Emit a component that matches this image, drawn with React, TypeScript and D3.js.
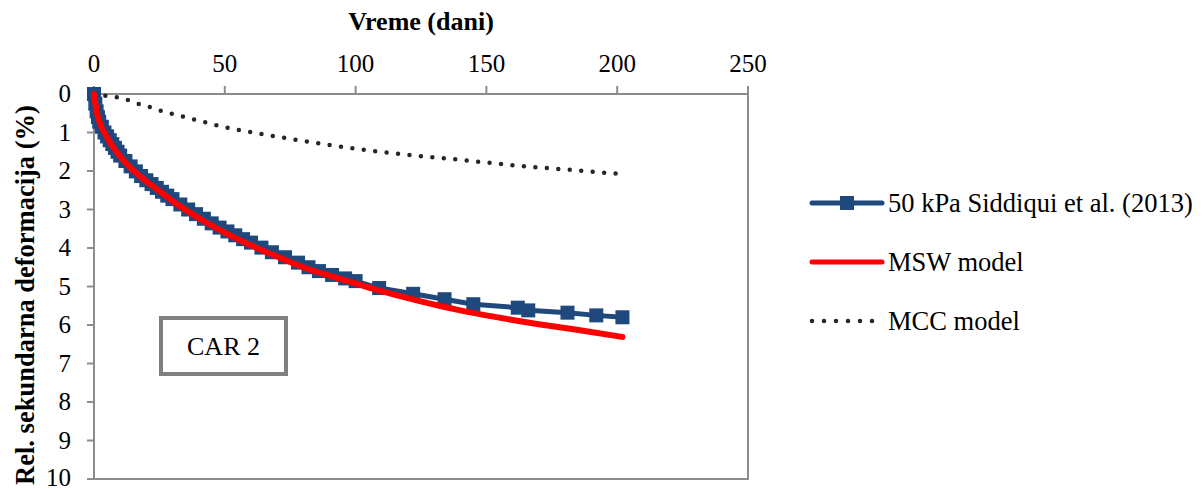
import React from "react";
import * as d3 from "d3";

const xTicks = [0, 50, 100, 150, 200, 250];
const yTicks = [0, 1, 2, 3, 4, 5, 6, 7, 8, 9, 10];

const measT = [0, 0.5, 1, 1.5, 2, 3, 4, 5, 6, 7, 8, 9, 10, 12, 14, 16, 18, 20, 22, 24, 26, 28, 30, 33, 36, 39, 42, 45, 48, 51, 54, 57, 60, 64, 68, 73, 78, 82, 86, 91, 96, 100, 109, 122, 134, 145, 162, 166, 181, 192, 202];
const measY = [0, 0.25, 0.45, 0.6, 0.72, 0.85, 1.0, 1.1, 1.2, 1.3, 1.4, 1.5, 1.6, 1.74, 1.88, 2.01, 2.13, 2.24, 2.34, 2.44, 2.54, 2.64, 2.73, 2.87, 3.0, 3.12, 3.24, 3.36, 3.47, 3.57, 3.67, 3.77, 3.86, 3.99, 4.11, 4.24, 4.38, 4.5, 4.6, 4.7, 4.79, 4.86, 5.04, 5.19, 5.33, 5.46, 5.55, 5.62, 5.68, 5.75, 5.8];

const mswT = [0, 1, 2.5, 4, 7, 10, 14, 20, 26, 30, 40, 50, 60, 71, 80, 90, 100, 110, 120, 132, 140, 150, 160, 170, 180, 190, 202];
const mswY = [0, 0.45, 0.8, 1.0, 1.35, 1.62, 1.92, 2.27, 2.57, 2.78, 3.22, 3.6, 3.93, 4.25, 4.5, 4.72, 4.92, 5.12, 5.3, 5.5, 5.62, 5.75, 5.87, 5.98, 6.08, 6.18, 6.31];

const mccT = [0, 5, 10, 14, 18, 23, 27, 32, 36, 50, 65, 80, 103, 120, 143, 160, 180, 200];
const mccY = [0, 0.05, 0.1, 0.18, 0.28, 0.37, 0.47, 0.55, 0.62, 0.86, 1.05, 1.22, 1.45, 1.58, 1.73, 1.85, 1.96, 2.07];

const legendLabels = ["50 kPa Siddiqui et al. (2013)", "MSW model", "MCC model"];

const BLUE = "#1F497D";
const RED = "#FF0000";
const DOT = "#262626";
const AXIS = "#8c8c8c";
const FONT = "'Liberation Serif', serif";

export default function App() {
  const x = d3.scaleLinear().domain([0, 250]).range([94, 748]);
  const y = d3.scaleLinear().domain([0, 10]).range([94, 479]);

  const meas = measT.map((t, i) => [t, measY[i]] as [number, number]);
  const msw = mswT.map((t, i) => [t, mswY[i]] as [number, number]);
  const mcc = mccT.map((t, i) => [t, mccY[i]] as [number, number]);

  const lineLin = d3.line<[number, number]>().x(d => x(d[0])).y(d => y(d[1]));
  const lineSmooth = d3.line<[number, number]>().x(d => x(d[0])).y(d => y(d[1])).curve(d3.curveMonotoneX);

  const ms = 14;
  const lx0 = 812, lx1 = 882, ltx = 888;
  const ly = [203, 262, 321];
  const ts = { fontFamily: FONT };

  return (
    <svg width={1204} height={489} style={{ position: "absolute", left: 0, top: 0, background: "#fff" }}>
      <rect x={0} y={0} width={1204} height={489} fill="#fff" />
      <rect x={x(0)} y={y(0)} width={x(250) - x(0)} height={y(10) - y(0)} fill="none" stroke={AXIS} strokeWidth={2} />
      {xTicks.map(t => (
        <g key={"xt" + t}>
          <line x1={x(t)} x2={x(t)} y1={y(0) - 8} y2={y(0)} stroke={AXIS} strokeWidth={2} />
          <text x={x(t)} y={72} textAnchor="middle" fontSize={25} fill="#000" style={ts}>{t}</text>
        </g>
      ))}
      {yTicks.map(t => (
        <g key={"yt" + t}>
          <line x1={x(0) - 7} x2={x(0)} y1={y(t)} y2={y(t)} stroke={AXIS} strokeWidth={2} />
          <text x={71} y={Math.min(y(t) + 8, 486)} textAnchor="end" fontSize={25} fill="#000" style={ts}>{t}</text>
        </g>
      ))}
      <text x={421} y={30} textAnchor="middle" fontSize={26} fontWeight="bold" fill="#000" style={ts}>Vreme (dani)</text>
      <text transform="translate(34,295) rotate(-90)" textAnchor="middle" fontSize={26.5} fontWeight="bold" fill="#000" style={ts}>Rel. sekundarna deformacija (%)</text>

      <path d={lineSmooth(mcc) || ""} fill="none" stroke={DOT} strokeWidth={4.5} strokeLinecap="round" strokeDasharray="0 11.5" />
      <path d={lineLin(meas) || ""} fill="none" stroke={BLUE} strokeWidth={5} />
      {meas.map((d, i) => (
        <rect key={"m" + i} x={x(d[0]) - ms / 2} y={y(d[1]) - ms / 2} width={ms} height={ms} fill={BLUE} />
      ))}
      <path d={lineSmooth(msw) || ""} fill="none" stroke={RED} strokeWidth={6} strokeLinecap="round" />

      <rect x={161} y={318} width={125} height={56} fill="#fff" stroke="#808080" strokeWidth={4} />
      <text x={223.5} y={355} textAnchor="middle" fontSize={26} fill="#000" style={ts}>CAR 2</text>

      <line x1={lx0} x2={lx1} y1={ly[0]} y2={ly[0]} stroke={BLUE} strokeWidth={5} strokeLinecap="round" />
      <rect x={(lx0 + lx1) / 2 - ms / 2} y={ly[0] - ms / 2} width={ms} height={ms} fill={BLUE} />
      <text x={ltx} y={ly[0] + 9} fontSize={26.5} fill="#000" style={ts}>{legendLabels[0]}</text>
      <line x1={lx0} x2={lx1} y1={ly[1]} y2={ly[1]} stroke={RED} strokeWidth={5} strokeLinecap="round" />
      <text x={ltx} y={ly[1] + 9} fontSize={26.5} fill="#000" style={ts}>{legendLabels[1]}</text>
      <line x1={lx0} x2={lx0 + 62} y1={ly[2]} y2={ly[2]} stroke={DOT} strokeWidth={4.5} strokeLinecap="round" strokeDasharray="0 12" />
      <text x={ltx} y={ly[2] + 9} fontSize={26.5} fill="#000" style={ts}>{legendLabels[2]}</text>
    </svg>
  );
}
